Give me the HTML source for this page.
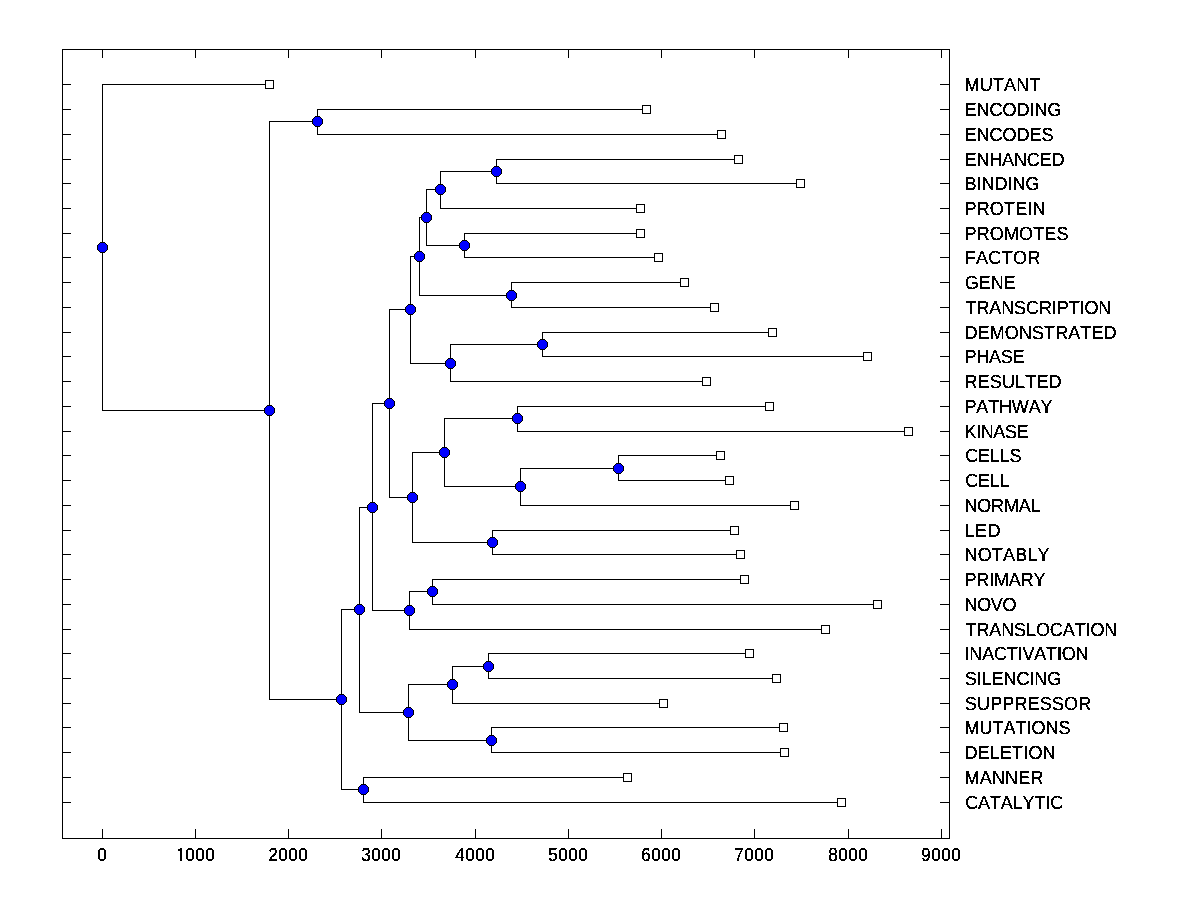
<!DOCTYPE html>
<html><head><meta charset="utf-8"><title>Dendrogram</title>
<style>
html,body{margin:0;padding:0;background:#fff;}
body{width:1200px;height:900px;overflow:hidden;position:relative;font-family:"Liberation Sans",sans-serif;}
svg{position:absolute;left:0;top:0;display:block;}
text{font-family:"Liberation Sans",sans-serif;font-size:18px;fill:#000;font-kerning:none;font-variant-ligatures:none;}
</style></head><body>
<svg width="1200" height="900" viewBox="0 0 1200 900" shape-rendering="crispEdges">
<defs>
<g id="c"><path fill="#000" d="M-2 -5h5v1h1v1h1v1h1v5h-1v1h-1v1h-1v1h-5v-1h-1v-1h-1v-1h-1v-5h1v-1h1v-1h1z"/><path fill="#00f" d="M-2 -4h5v1h1v1h1v5h-1v1h-1v1h-5v-1h-1v-1h-1v-5h1v-1h1z"/></g>
<g id="s"><rect x="-4" y="-4" width="9" height="9" fill="#000"/><rect x="-3" y="-3" width="7" height="7" fill="#fff"/></g>
<filter id="t" x="0" y="0" width="1200" height="900" filterUnits="userSpaceOnUse" color-interpolation-filters="sRGB"><feComponentTransfer><feFuncA type="discrete" tableValues="0 0 0 0 0 0 0 0 0 0 0 0 0 1 1 1 1 1 1 1 1 1 1 1 1 1 1 1 1 1 1 1 1 1 1 1 1 1 1 1"/></feComponentTransfer></filter>
</defs>
<rect width="1200" height="900" fill="#fff"/>
<!-- axes box and ticks -->
<path fill="#000" d="M62 49h888v1h-888zM62 838h888v1h-888zM62 49h1v790h-1zM949 49h1v790h-1zM102 49h1v9h-1zM102 829h1v10h-1zM195 49h1v9h-1zM195 829h1v10h-1zM288 49h1v9h-1zM288 829h1v10h-1zM381 49h1v9h-1zM381 829h1v10h-1zM475 49h1v9h-1zM475 829h1v10h-1zM568 49h1v9h-1zM568 829h1v10h-1zM661 49h1v9h-1zM661 829h1v10h-1zM754 49h1v9h-1zM754 829h1v10h-1zM848 49h1v9h-1zM848 829h1v10h-1zM941 49h1v9h-1zM941 829h1v10h-1zM62 84h9v1h-9zM940 84h10v1h-10zM62 109h9v1h-9zM940 109h10v1h-10zM62 134h9v1h-9zM940 134h10v1h-10zM62 159h9v1h-9zM940 159h10v1h-10zM62 183h9v1h-9zM940 183h10v1h-10zM62 208h9v1h-9zM940 208h10v1h-10zM62 233h9v1h-9zM940 233h10v1h-10zM62 257h9v1h-9zM940 257h10v1h-10zM62 282h9v1h-9zM940 282h10v1h-10zM62 307h9v1h-9zM940 307h10v1h-10zM62 332h9v1h-9zM940 332h10v1h-10zM62 356h9v1h-9zM940 356h10v1h-10zM62 381h9v1h-9zM940 381h10v1h-10zM62 406h9v1h-9zM940 406h10v1h-10zM62 431h9v1h-9zM940 431h10v1h-10zM62 455h9v1h-9zM940 455h10v1h-10zM62 480h9v1h-9zM940 480h10v1h-10zM62 505h9v1h-9zM940 505h10v1h-10zM62 530h9v1h-9zM940 530h10v1h-10zM62 554h9v1h-9zM940 554h10v1h-10zM62 579h9v1h-9zM940 579h10v1h-10zM62 604h9v1h-9zM940 604h10v1h-10zM62 629h9v1h-9zM940 629h10v1h-10zM62 653h9v1h-9zM940 653h10v1h-10zM62 678h9v1h-9zM940 678h10v1h-10zM62 703h9v1h-9zM940 703h10v1h-10zM62 727h9v1h-9zM940 727h10v1h-10zM62 752h9v1h-9zM940 752h10v1h-10zM62 777h9v1h-9zM940 777h10v1h-10zM62 802h9v1h-9zM940 802h10v1h-10z"/>
<!-- dendrogram branches -->
<path fill="#000" d="M102 84h1v327h-1zM102 84h168v1h-168zM102 410h168v1h-168zM269 121h1v579h-1zM269 121h49v1h-49zM269 699h73v1h-73zM317 109h1v26h-1zM317 109h330v1h-330zM317 134h405v1h-405zM341 609h1v181h-1zM341 609h19v1h-19zM341 789h23v1h-23zM363 777h1v26h-1zM363 777h265v1h-265zM363 802h479v1h-479zM359 507h1v206h-1zM359 507h14v1h-14zM359 712h50v1h-50zM408 684h1v57h-1zM408 684h45v1h-45zM408 740h84v1h-84zM452 666h1v38h-1zM452 666h37v1h-37zM452 703h212v1h-212zM488 653h1v26h-1zM488 653h262v1h-262zM488 678h289v1h-289zM491 727h1v26h-1zM491 727h293v1h-293zM491 752h294v1h-294zM372 403h1v208h-1zM372 403h18v1h-18zM372 610h38v1h-38zM409 591h1v39h-1zM409 591h24v1h-24zM409 629h417v1h-417zM432 579h1v26h-1zM432 579h313v1h-313zM432 604h446v1h-446zM389 309h1v189h-1zM389 309h22v1h-22zM389 497h24v1h-24zM412 452h1v91h-1zM412 452h33v1h-33zM412 542h81v1h-81zM492 530h1v25h-1zM492 530h243v1h-243zM492 554h249v1h-249zM444 418h1v69h-1zM444 418h74v1h-74zM444 486h77v1h-77zM517 406h1v26h-1zM517 406h253v1h-253zM517 431h392v1h-392zM520 468h1v38h-1zM520 468h99v1h-99zM520 505h275v1h-275zM618 455h1v26h-1zM618 455h103v1h-103zM618 480h112v1h-112zM410 256h1v108h-1zM410 256h10v1h-10zM410 363h41v1h-41zM450 344h1v38h-1zM450 344h93v1h-93zM450 381h257v1h-257zM542 332h1v25h-1zM542 332h231v1h-231zM542 356h326v1h-326zM419 217h1v79h-1zM419 217h8v1h-8zM419 295h93v1h-93zM511 282h1v26h-1zM511 282h174v1h-174zM511 307h204v1h-204zM426 189h1v57h-1zM426 189h15v1h-15zM426 245h39v1h-39zM464 233h1v25h-1zM464 233h177v1h-177zM464 257h195v1h-195zM440 171h1v38h-1zM440 171h57v1h-57zM440 208h201v1h-201zM496 159h1v25h-1zM496 159h243v1h-243zM496 183h305v1h-305z"/>
<!-- internal nodes -->
<g><use href="#c" x="102" y="247"/><use href="#c" x="269" y="410"/><use href="#c" x="317" y="121"/><use href="#c" x="341" y="699"/><use href="#c" x="363" y="789"/><use href="#c" x="359" y="609"/><use href="#c" x="408" y="712"/><use href="#c" x="452" y="684"/><use href="#c" x="488" y="666"/><use href="#c" x="491" y="740"/><use href="#c" x="372" y="507"/><use href="#c" x="409" y="610"/><use href="#c" x="432" y="591"/><use href="#c" x="389" y="403"/><use href="#c" x="412" y="497"/><use href="#c" x="492" y="542"/><use href="#c" x="444" y="452"/><use href="#c" x="517" y="418"/><use href="#c" x="520" y="486"/><use href="#c" x="618" y="468"/><use href="#c" x="410" y="309"/><use href="#c" x="450" y="363"/><use href="#c" x="542" y="344"/><use href="#c" x="419" y="256"/><use href="#c" x="511" y="295"/><use href="#c" x="426" y="217"/><use href="#c" x="464" y="245"/><use href="#c" x="440" y="189"/><use href="#c" x="496" y="171"/></g>
<!-- leaves -->
<g><use href="#s" x="269" y="84"/><use href="#s" x="646" y="109"/><use href="#s" x="721" y="134"/><use href="#s" x="738" y="159"/><use href="#s" x="800" y="183"/><use href="#s" x="640" y="208"/><use href="#s" x="640" y="233"/><use href="#s" x="658" y="257"/><use href="#s" x="684" y="282"/><use href="#s" x="714" y="307"/><use href="#s" x="772" y="332"/><use href="#s" x="867" y="356"/><use href="#s" x="706" y="381"/><use href="#s" x="769" y="406"/><use href="#s" x="908" y="431"/><use href="#s" x="720" y="455"/><use href="#s" x="729" y="480"/><use href="#s" x="794" y="505"/><use href="#s" x="734" y="530"/><use href="#s" x="740" y="554"/><use href="#s" x="744" y="579"/><use href="#s" x="877" y="604"/><use href="#s" x="825" y="629"/><use href="#s" x="749" y="653"/><use href="#s" x="776" y="678"/><use href="#s" x="663" y="703"/><use href="#s" x="783" y="727"/><use href="#s" x="784" y="752"/><use href="#s" x="627" y="777"/><use href="#s" x="841" y="802"/></g>
<g text-rendering="geometricPrecision" filter="url(#t)">
<text transform="translate(97.232 861) scale(0.95 1.05)" letter-spacing="0.516">0</text>
<text transform="translate(176.232 861) scale(0.95 1.05)" letter-spacing="0.516">1<tspan dx="-1.053">000</tspan></text>
<text transform="translate(268.232 861) scale(0.95 1.05)" letter-spacing="0.516">2000</text>
<text transform="translate(361.232 861) scale(0.95 1.05)" letter-spacing="0.516">3000</text>
<text transform="translate(455.232 861) scale(0.95 1.05)" letter-spacing="0.516">4000</text>
<text transform="translate(548.232 861) scale(0.95 1.05)" letter-spacing="0.516">5000</text>
<text transform="translate(641.232 861) scale(0.95 1.05)" letter-spacing="0.516">6000</text>
<text transform="translate(734.232 861) scale(0.95 1.05)" letter-spacing="0.516">7000</text>
<text transform="translate(828.232 861) scale(0.95 1.05)" letter-spacing="0.516">8000</text>
<text transform="translate(921.232 861) scale(0.95 1.05)" letter-spacing="0.516">9000</text>
<text transform="translate(964.52 91) scale(1 1.05)" letter-spacing="0.2">MUTANT</text>
<text transform="translate(964.52 116) scale(1 1.05)">ENCODING</text>
<text transform="translate(964.52 141) scale(1 1.05)">ENCODES</text>
<text transform="translate(964.52 166) scale(1 1.05)" letter-spacing="-0.143">ENHANCED</text>
<text transform="translate(964.52 190) scale(1 1.05)">BINDING</text>
<text transform="translate(964.52 215) scale(1 1.05)" letter-spacing="0.167">PROTEIN</text>
<text transform="translate(964.52 240) scale(1 1.05)" letter-spacing="0.143">PROMOTES</text>
<text transform="translate(964.52 264) scale(1 1.05)" letter-spacing="0.4">FACTOR</text>
<text transform="translate(964.82 289) scale(1 1.05)">GENE</text>
<text transform="translate(965.52 314) scale(1 1.05)" letter-spacing="-0.1">TRANSCRIPTION</text>
<text transform="translate(964.52 339) scale(1 1.05)" letter-spacing="0.091">DEMONSTRATED</text>
<text transform="translate(964.52 363) scale(1 1.05)" letter-spacing="-0.25">PHASE</text>
<text transform="translate(964.52 388) scale(1 1.05)" letter-spacing="0.143">RESULTED</text>
<text transform="translate(964.52 413) scale(1 1.05)" letter-spacing="-0.167">PATHWAY</text>
<text transform="translate(964.52 438) scale(1 1.05)" letter-spacing="-0.4">KINASE</text>
<text transform="translate(965.17 462) scale(1 1.05)" letter-spacing="-0.15">CELLS</text>
<text transform="translate(965.17 487) scale(1 1.05)" letter-spacing="-0.2">CELL</text>
<text transform="translate(964.52 512) scale(1 1.05)" letter-spacing="-0.2">NORMAL</text>
<text transform="translate(964.52 537) scale(1 1.05)" letter-spacing="0.5">LED</text>
<text transform="translate(964.52 561) scale(1 1.05)" letter-spacing="0.167">NOTABLY</text>
<text transform="translate(964.52 586) scale(1 1.05)" letter-spacing="-0.167">PRIMARY</text>
<text transform="translate(964.52 611) scale(1 1.05)" letter-spacing="-0.333">NOVO</text>
<text transform="translate(965.52 636) scale(1 1.05)" letter-spacing="-0.1">TRANSLOCATION</text>
<text transform="translate(964.52 660) scale(1 1.05)" letter-spacing="-0.182">INACTIVATION</text>
<text transform="translate(964.82 685) scale(1 1.05)" letter-spacing="-0.075">SILENCING</text>
<text transform="translate(964.82 710) scale(1 1.05)" letter-spacing="0.155">SUPPRESSOR</text>
<text transform="translate(964.52 734) scale(1 1.05)">MUTATIONS</text>
<text transform="translate(964.52 759) scale(1 1.05)" letter-spacing="0.143">DELETION</text>
<text transform="translate(964.52 784) scale(1 1.05)" letter-spacing="0.2">MANNER</text>
<text transform="translate(965.17 809) scale(1 1.05)" letter-spacing="-0.125">CATALYTIC</text>
</g>
<!-- Arial-style 1 has no foot serif -->
<path fill="#fff" d="M177 859h3v2h-3zM182 859h4v2h-4z"/>
</svg>
</body></html>
